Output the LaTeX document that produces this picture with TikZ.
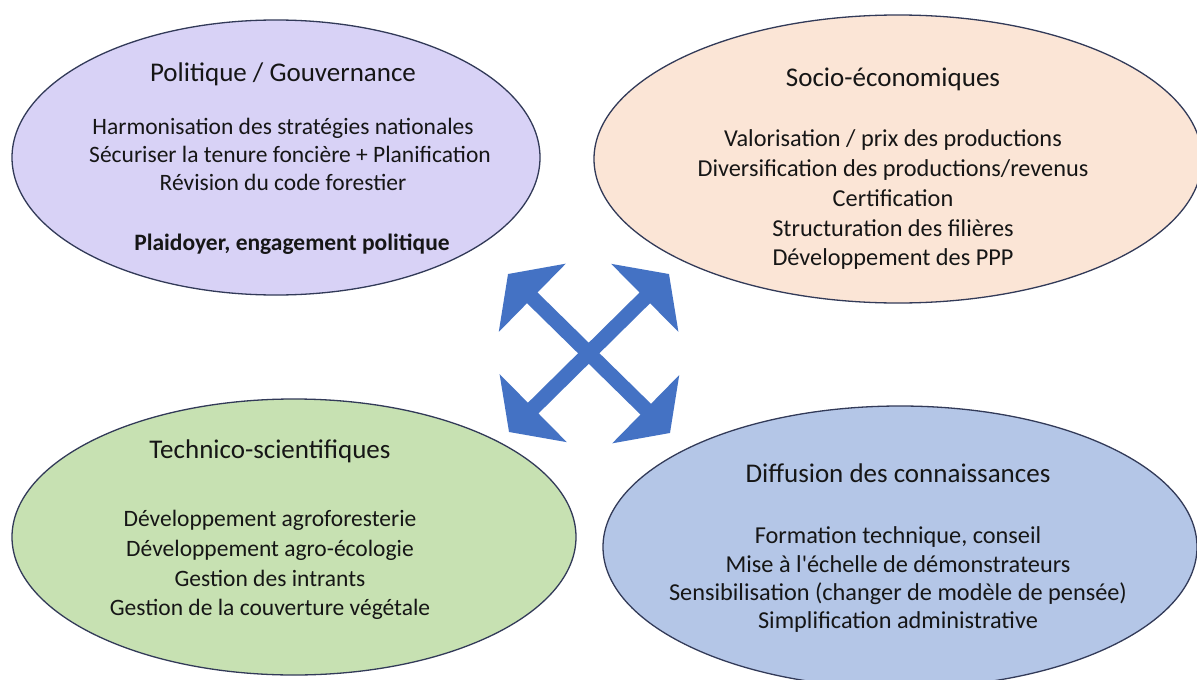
\documentclass[tikz,border=0pt]{standalone}
\usepackage{fontspec}
\setmainfont{Carlito}[Ligatures=TeXOff]
\usetikzlibrary{arrows.meta}
\definecolor{purp}{RGB}{216,210,246}
\definecolor{peach}{RGB}{251,229,214}
\definecolor{leaf}{RGB}{199,225,178}
\definecolor{sky}{RGB}{180,198,231}
\definecolor{edge}{RGB}{50,58,88}
\definecolor{ink}{RGB}{22,22,22}
\definecolor{arrowblue}{RGB}{68,114,196}
\begin{document}
\begin{tikzpicture}[x=1pt,y=-1pt,
  bubble/.style={draw=edge,line width=1.3pt},
  ttl/.style={font=\fontsize{27}{30}\selectfont,text=ink,inner sep=0pt,anchor=base},
  itm/.style={font=\fontsize{23.5}{28}\selectfont,text=ink,inner sep=0pt,anchor=base},
  itmb/.style={font=\fontsize{24.3}{28}\selectfont,text=ink,inner sep=0pt,anchor=base},
  cross/.style={draw=arrowblue,line width=15pt,{Triangle[width=94pt,length=34pt]}-{Triangle[width=94pt,length=34pt]}}]
\useasboundingbox (0,0) rectangle (1197,680);
\fill[white] (0,0) rectangle (1197,680);
\begin{scope}
\clip (0,0) rectangle (1197,680);
\filldraw[bubble,fill=purp] (276,157.5) ellipse [x radius=264pt, y radius=137.5pt];
\filldraw[bubble,fill=peach] (898,159) ellipse [x radius=304pt, y radius=144pt];
\filldraw[bubble,fill=leaf] (294,537) ellipse [x radius=282pt, y radius=138pt];
\filldraw[bubble,fill=sky] (900,547) ellipse [x radius=297pt, y radius=141pt];
\end{scope}
% Politique / Gouvernance
\node[ttl] (p0) at (283,81) {Politique / Gouvernance};
\node[itm] (p1) at (283,134) {Harmonisation des stratégies nationales};
\node[itm] (p2) at (290,162) {Sécuriser la tenure foncière + Planification};
\node[itm] (p3) at (283,190) {Révision du code forestier};
\node[itm,font=\fontsize{23.5}{28}\selectfont\bfseries] (p4) at (292,250) {Plaidoyer, engagement politique};
% Socio-economiques
\node[ttl] (s0) at (893,86) {Socio-économiques};
\node[itmb] (s1) at (893,146) {Valorisation / prix des productions};
\node[itmb] (s2) at (893,176) {Diversification des productions/revenus};
\node[itmb] (s3) at (893,206) {Certification};
\node[itmb] (s4) at (893,236) {Structuration des filières};
\node[itmb] (s5) at (893,265) {Développement des PPP};
% Technico-scientifiques
\node[ttl] (t0) at (270,458) {Technico-scientifiques};
\node[itm] (t1) at (270,526) {Développement agroforesterie};
\node[itm] (t2) at (270,556) {Développement agro-écologie};
\node[itm] (t3) at (270,586) {Gestion des intrants};
\node[itm] (t4) at (270,615) {Gestion de la couverture végétale};
% Diffusion
\node[ttl] (d0) at (898,482) {Diffusion des connaissances};
\node[itmb] (d1) at (898,543) {Formation technique, conseil};
\node[itmb] (d2) at (898,572) {Mise à l'échelle de démonstrateurs};
\node[itmb] (d3) at (898,600) {Sensibilisation (changer de modèle de pensée)};
\node[itmb] (d4) at (898,628) {Simplification administrative};
% cross arrows
\coordinate (tl) at (508,274);
\coordinate (br) at (670,433);
\coordinate (tr) at (669,274);
\coordinate (bl) at (509,432);
\draw[cross] (tl) -- (br);
\draw[cross] (tr) -- (bl);
\end{tikzpicture}
\end{document}
